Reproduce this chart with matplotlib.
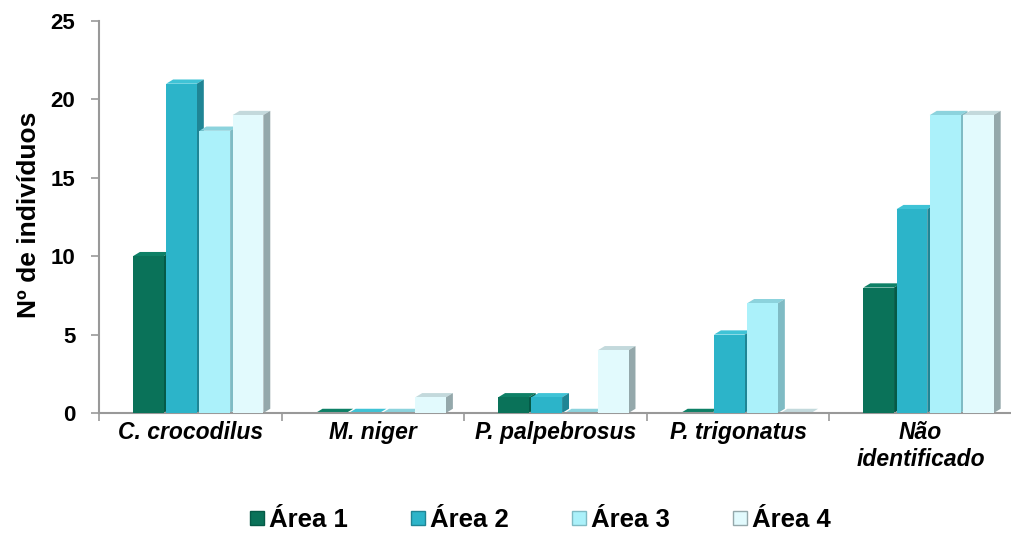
import matplotlib
matplotlib.use("Agg")
import matplotlib.pyplot as plt
from matplotlib.patches import Polygon
from matplotlib.lines import Line2D
import numpy as np

plt.rcParams['font.family'] = ['Liberation Sans', 'DejaVu Sans']

categories = ["C. crocodilus", "M. niger", "P. palpebrosus", "P. trigonatus", "Não\nidentificado"]
series_names = ["Área 1", "Área 2", "Área 3", "Área 4"]
area1 = [10, 0, 1, 0, 8]
area2 = [21, 0, 1, 5, 13]
area3 = [18, 0, 0, 7, 19]
area4 = [19, 1, 4, 0, 19]
yticks = [0, 5, 10, 15, 20, 25]

front_colors = ["#0A7259", "#2CB4C9", "#ABF1FA", "#E2FAFD"]
top_colors = ["#0E8066", "#3FC3D6", "#8CD3DD", "#C3D9DC"]
side_colors = ["#055A47", "#1F8595", "#7FBBC4", "#94A8AB"]

fig = plt.figure(figsize=(10.12, 5.33), dpi=100)
ax = fig.add_axes([99/1012, 1-413/533, 913/1012, (413-21)/533])

all_series = [area1, area2, area3, area4]
width = 0.168
pitch = 0.182
group_off = 0.043
dx = 0.038
dy = 0.27

x = np.arange(len(categories))
for i, vals in enumerate(all_series):
    pos = x + group_off + (i - 1.5) * pitch - width / 2
    bars = ax.bar(pos, vals, width=width, align='edge', color=front_colors[i],
                  edgecolor='none', zorder=3)
    for b in bars:
        x0, w, v = b.get_x(), b.get_width(), b.get_height()
        top = Polygon([(x0, v), (x0 + dx, v + dy), (x0 + w + dx, v + dy), (x0 + w, v)],
                      closed=True, facecolor=top_colors[i], edgecolor='none', zorder=2)
        side = Polygon([(x0 + w, 0), (x0 + w + dx, dy), (x0 + w + dx, v + dy), (x0 + w, v)],
                       closed=True, facecolor=side_colors[i], edgecolor='none', zorder=2)
        ax.add_patch(top)
        ax.add_patch(side)

ax.set_xlim(-0.5, 4.5 - 7/184)
ax.set_ylim(0, 25)
ax.set_yticks(yticks)
ax.set_yticklabels([str(t) for t in yticks], fontsize=16, fontweight='bold')

ax.set_xticks(np.arange(-0.5, 4.6, 1.0))
ax.set_xticklabels([])
ax.set_xticks(x, minor=True)
ax.set_xticklabels(categories, minor=True, fontsize=16.5, fontweight='bold', style='italic',
                   linespacing=1.2, va='top')
ax.tick_params(axis='x', which='minor', length=0, pad=6)
ax.tick_params(axis='x', which='major', length=6, color='#999999', width=1.2, direction='out')
ax.tick_params(axis='y', length=6, color='#999999', width=1.2, direction='out', pad=11)

for s in ['top', 'right']:
    ax.spines[s].set_visible(False)
for s in ['left', 'bottom']:
    ax.spines[s].set_color('#999999')
    ax.spines[s].set_linewidth(1.5)

ax.set_ylabel("Nº de indivíduos", fontsize=19, fontweight='bold')
ax.yaxis.set_label_coords(41/1012, 1-215/533, transform=fig.transFigure)

handles = [Line2D([], [], marker='s', linestyle='none', markersize=9.5,
                  markerfacecolor=front_colors[i], markeredgecolor=side_colors[i])
           for i in range(4)]
fig.legend(handles, series_names, loc='center', bbox_to_anchor=(540/1012, 1-520/533),
           ncol=4, frameon=False, prop={'size': 18.5, 'weight': 'bold'},
           handletextpad=0.15, columnspacing=2.45, handlelength=0.6,
           borderpad=0, borderaxespad=0)

fig.savefig("out.png", dpi=100)
